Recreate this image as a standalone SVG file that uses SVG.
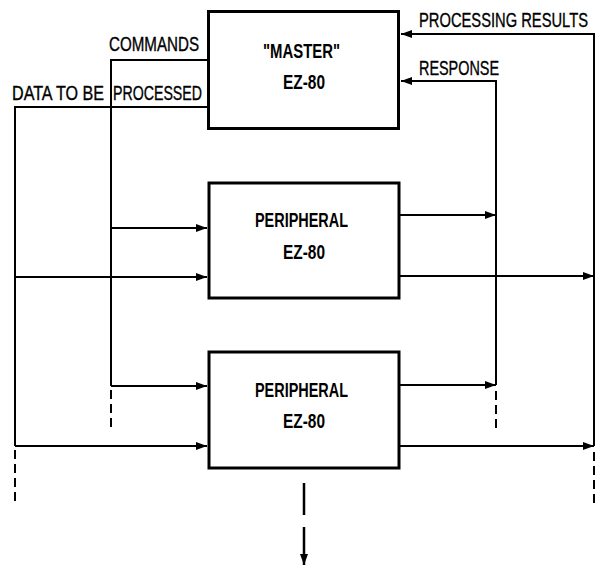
<svg xmlns="http://www.w3.org/2000/svg" width="601" height="566" viewBox="0 0 601 566">
<style>
.box{fill:#fff;stroke:#000;stroke-width:3}
.ln{fill:none;stroke:#000;stroke-width:2}
.dash{fill:none;stroke:#000;stroke-width:2;stroke-dasharray:9 5}
.lbl{font-family:"Liberation Sans Narrow","Liberation Sans",Arial,sans-serif;font-size:20px;fill:#000;stroke:#000;stroke-width:0.35}
.bx{font-family:"Liberation Sans Narrow","Liberation Sans",Arial,sans-serif;font-size:20px;font-weight:bold;fill:#000;text-anchor:middle}
</style>
<defs>
<marker id="ah" markerUnits="userSpaceOnUse" markerWidth="12" markerHeight="10" refX="11" refY="4" orient="auto">
<path d="M0,0 L11,4 L0,8 Z" fill="#000"/>
</marker>
</defs>
<g id="connectors">
<path class="ln" d="M207,60 H111 V386"/>
<path class="dash" d="M111,390 V429"/>
<path class="ln" d="M111,228 H207" marker-end="url(#ah)"/>
<path class="ln" d="M111,386 H207" marker-end="url(#ah)"/>
<path class="ln" d="M207,107 H15 V446"/>
<path class="dash" d="M15,450 V503"/>
<path class="ln" d="M15,277 H207" marker-end="url(#ah)"/>
<path class="ln" d="M15,446 H207" marker-end="url(#ah)"/>
<path class="ln" d="M496,385 V81 H401" marker-end="url(#ah)"/>
<path class="ln" d="M400,215 H496" marker-end="url(#ah)"/>
<path class="ln" d="M400,385 H496" marker-end="url(#ah)"/>
<path class="dash" d="M496,391 V429"/>
<path class="ln" d="M594,446 V34 H401" marker-end="url(#ah)"/>
<path class="ln" d="M400,276 H594" marker-end="url(#ah)"/>
<path class="ln" d="M400,446 H594" marker-end="url(#ah)"/>
<path class="dash" d="M594,452 V505"/>
<path class="ln" d="M304,483 V515" style="stroke-width:2.5"/>
<path class="ln" d="M304,527 V565" style="stroke-width:2.5" marker-end="url(#ah)"/>
</g>
<g id="labels">
<text class="lbl" transform="translate(109,51) scale(0.74,1)" x="0" y="0" textLength="121.6" lengthAdjust="spacingAndGlyphs">COMMANDS</text>
<text class="lbl" transform="translate(0,100) scale(0.74,1)" y="0"><tspan x="16.2" textLength="124.3" lengthAdjust="spacingAndGlyphs">DATA TO BE</tspan> <tspan x="152.7" textLength="120.3" lengthAdjust="spacingAndGlyphs">PROCESSED</tspan></text>
<text class="lbl" transform="translate(588,27) scale(0.74,1)" x="0" y="0" text-anchor="end" textLength="228.4" lengthAdjust="spacingAndGlyphs">PROCESSING RESULTS</text>
<text class="lbl" transform="translate(419,75) scale(0.74,1)" x="0" y="0" textLength="108.1" lengthAdjust="spacingAndGlyphs">RESPONSE</text>
</g>
<g id="master">
<rect class="box" x="208.5" y="11.5" width="190" height="117"/>
<text class="bx" x="301.5" y="58" textLength="77" lengthAdjust="spacingAndGlyphs">"MASTER"</text>
<text class="bx" x="304" y="89" textLength="42" lengthAdjust="spacingAndGlyphs">EZ-80</text>
</g>
<g id="peripheral1">
<rect class="box" x="209" y="183" width="190" height="115"/>
<text class="bx" x="301.5" y="227" textLength="93" lengthAdjust="spacingAndGlyphs">PERIPHERAL</text>
<text class="bx" x="304" y="259" textLength="42" lengthAdjust="spacingAndGlyphs">EZ-80</text>
</g>
<g id="peripheral2">
<rect class="box" x="209" y="352" width="190" height="116"/>
<text class="bx" x="301.5" y="397" textLength="93" lengthAdjust="spacingAndGlyphs">PERIPHERAL</text>
<text class="bx" x="304" y="428" textLength="42" lengthAdjust="spacingAndGlyphs">EZ-80</text>
</g>
</svg>
